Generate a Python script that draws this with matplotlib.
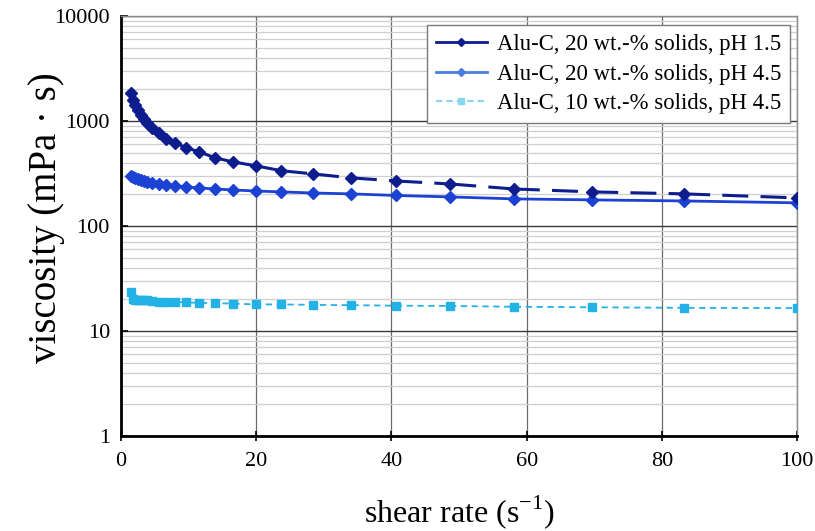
import matplotlib
matplotlib.use("Agg")
import matplotlib.pyplot as plt
from matplotlib.collections import LineCollection
from matplotlib.lines import Line2D
from matplotlib.ticker import LogLocator, NullFormatter

plt.rcParams['font.family'] = ['Liberation Serif', 'DejaVu Serif']

# ---- data ----
shear_rate = [1.5, 1.8, 2.1, 2.5, 3.0, 3.4, 3.9, 4.6, 5.6, 6.7, 8.0, 9.6, 11.6,
              13.9, 16.6, 20.0, 23.7, 28.4, 34.0, 40.7, 48.7, 58.1, 69.7, 83.3, 100.0]
visc_20_ph15 = [1850, 1600, 1420, 1270, 1130, 1040, 950, 860, 760, 680, 620, 556, 507,
                445, 407, 373, 336, 313, 287, 268, 251, 225, 211, 202, 185]
visc_20_ph45 = [300, 292, 285, 278, 272, 267, 262, 257, 251, 246, 241, 236, 230,
                225, 220, 215, 211, 206, 202, 195, 189, 181, 177, 173, 166]
visc_10_ph45 = [23.5, 20.0, 19.5, 19.8, 19.6, 19.5, 19.6, 19.2, 18.8, 18.8, 18.9, 18.7, 18.5,
                18.4, 18.2, 17.9, 17.9, 17.7, 17.6, 17.4, 17.3, 17.0, 16.8, 16.6, 16.5]

labels = ["Alu-C, 20 wt.-% solids, pH 1.5",
          "Alu-C, 20 wt.-% solids, pH 4.5",
          "Alu-C, 10 wt.-% solids, pH 4.5"]
x_ticks = [0, 20, 40, 60, 80, 100]
y_ticks = [1, 10, 100, 1000, 10000]
y_ticklabels = ["1", "10", "100", "1000", "10000"]

c1 = "#0d1d8e"
c2 = "#1c42d4"
c3 = "#22b2e6"
c1_leg = "#0d1d8e"
c2_leg = "#4a7ee0"
c3_leg = "#86d6f0"

fig = plt.figure(figsize=(8.15, 5.31), dpi=100)
ax = fig.add_axes([0.1485, 0.179, 0.8295, 0.791])

ax.set_yscale('log')
ax.set_xlim(0, 100)
ax.set_ylim(1, 10000)

# grid
ax.yaxis.set_minor_locator(LogLocator(base=10, subs=range(2, 10)))
ax.yaxis.set_minor_formatter(NullFormatter())
ax.grid(which='minor', axis='y', color='#cfcfcf', lw=0.9)
ax.grid(which='major', axis='y', color='#3a3a3a', lw=1.0)
ax.grid(which='major', axis='x', color='#6a6a6a', lw=0.9)
ax.set_axisbelow(True)

# series 1: dashed segments restarting at each point
segs = [[(shear_rate[i], visc_20_ph15[i]), (shear_rate[i + 1], visc_20_ph15[i + 1])]
        for i in range(len(shear_rate) - 1)]
lc = LineCollection(segs, colors=c1, linewidths=2.2, linestyles=[(0, (8.5, 4.0))],
                    capstyle='butt', zorder=3)
ax.add_collection(lc)
ax.plot(shear_rate, visc_20_ph15, ls='none', marker='D', ms=6, color=c1, zorder=4)

# series 2
ax.plot(shear_rate, visc_20_ph45, ls='-', lw=2.0, marker='D', ms=6, color=c2, zorder=3)

# series 3
ax.plot(shear_rate, visc_10_ph45, ls=(0, (3.5, 2.5)), lw=1.3, marker='s', ms=6,
        color=c3, zorder=3)

ax.set_xticks(x_ticks)
ax.set_xticklabels([str(v) for v in x_ticks])
ax.set_yticks(y_ticks)
ax.set_yticklabels(y_ticklabels)

ax.tick_params(axis='x', which='major', direction='inout', length=7, width=1.2,
               labelsize=16, pad=8, colors='black')
ax.tick_params(axis='y', which='major', direction='in', length=5, width=1.2,
               labelsize=16, pad=8)
ax.tick_params(axis='y', which='minor', length=0)

for side in ['left', 'bottom']:
    ax.spines[side].set_color('black')
    ax.spines[side].set_linewidth(2.0)
for side in ['top', 'right']:
    ax.spines[side].set_color('#8a8a8a')
    ax.spines[side].set_linewidth(1.0)

ax.set_xlabel("shear rate (s$^{\\mathregular{-1}}$)", fontsize=23)
ax.set_ylabel("viscosity (mPa · s)", fontsize=28)
ax.xaxis.set_label_coords(0.5, -0.135)
ax.yaxis.set_label_coords(-0.083, 0.52)

handles = [
    Line2D([], [], color=c1_leg, lw=2.0, marker='D', ms=4),
    Line2D([], [], color=c2_leg, lw=2.0, marker='D', ms=4),
    Line2D([], [], color=c3_leg, lw=1.5, ls=(0, (3, 2)), marker='s', ms=5),
]
leg = ax.legend(handles, labels, loc='upper right', bbox_to_anchor=(1.0, 0.995),
                fontsize=16.4, frameon=True, fancybox=False, framealpha=1,
                edgecolor='#7a7a7a', handlelength=2.2, handletextpad=0.45,
                labelspacing=0.38, borderpad=0.4, borderaxespad=0.3)
leg.get_frame().set_linewidth(1.0)

fig.savefig("out.png", dpi=100)
